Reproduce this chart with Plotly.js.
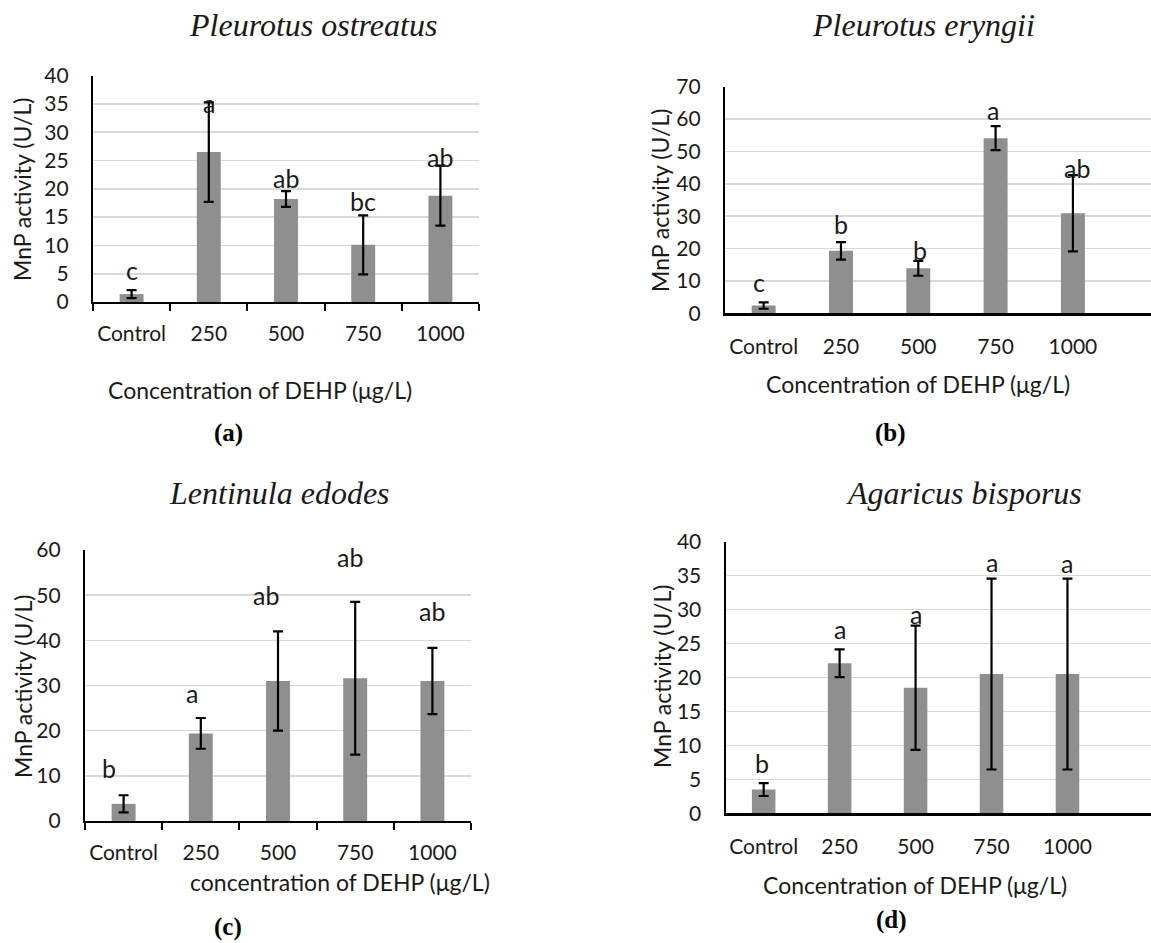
<!DOCTYPE html>
<html>
<head>
<meta charset="utf-8">
<script src="https://cdn.plot.ly/plotly-3.0.1.min.js"></script>
<style>html,body{margin:0;padding:0;background:#fff}#chart{width:1151px;height:943px}</style>
</head>
<body>
<div id="chart"></div>
<script>
// ---- data ----
const categories = ['Control', '250', '500', '750', '1000'];

const titleA = 'Pleurotus ostreatus';
const valuesA = [1.4, 26.5, 18.2, 10.1, 18.8];
const errorsA = [0.7, 8.8, 1.4, 5.2, 5.3];
const lettersA = ['c', 'a', 'ab', 'bc', 'ab'];
const letterHeightA = [5.7, 35.1, 22.0, 17.8, 25.7];

const titleB = 'Pleurotus eryngii';
const valuesB = [2.4, 19.3, 13.9, 54.1, 30.9];
const errorsB = [1.0, 2.7, 2.3, 3.7, 11.8];
const lettersB = ['c', 'b', 'b', 'a', 'ab'];
const letterHeightB = [9.8, 27.5, 19.6, 62.8, 44.8];

const titleC = 'Lentinula edodes';
const valuesC = [3.8, 19.4, 31.0, 31.6, 31.0];
const errorsC = [1.9, 3.4, 11.0, 16.9, 7.35];
const lettersC = ['b', 'a', 'ab', 'ab', 'ab'];
const letterHeightC = [11.7, 28.3, 50.0, 58.4, 46.5];

const titleD = 'Agaricus bisporus';
const valuesD = [3.5, 22.1, 18.5, 20.5, 20.5];
const errorsD = [0.95, 2.05, 9.15, 14.05, 14.05];
const lettersD = ['b', 'a', 'a', 'a', 'a'];
const letterHeightD = [7.4, 27.2, 29.3, 37.05, 36.9];

const yTitle = 'MnP activity (U/L)';
const xTitleUpper = 'Concentration of DEHP (μg/L)';
const xTitleLower = 'concentration of DEHP (μg/L)';
const captions = ['(a)', '(b)', '(c)', '(d)'];

// ---- layout helpers ----
const W = 1151, H = 943;
const px = v => v / W;
const py = v => 1 - v / H;
const sans = 'Lato, "Open Sans", sans-serif';
const serif = '"Liberation Serif", "Times New Roman", serif';
const barColor = '#8f8f8f';
const gridColor = '#d9d9d9';

const panels = [
  {vals: valuesA, errs: errorsA, letters: lettersA, lh: letterHeightA, title: titleA, xt: xTitleUpper,
   x0: 93, x1: 479, yTop: 75.7, yBot: 302, ymax: 40, dtick: 5, xr: [-0.5, 4.5], xticks: true,
   titlePos: [313, 25], yTitlePos: [22, 190], xTitlePos: [260, 390], capPos: [228, 433], shifts: [0,0,0,0,0]},
  {vals: valuesB, errs: errorsB, letters: lettersB, lh: letterHeightB, title: titleB, xt: xTitleUpper,
   x0: 725, x1: 1151, yTop: 86.7, yBot: 313.3, ymax: 70, dtick: 10, xr: [-0.5, 5.01], xticks: false,
   titlePos: [924, 25], yTitlePos: [660, 200], xTitlePos: [918, 384], capPos: [890, 433], shifts: [-5,0,2,-3,4]},
  {vals: valuesC, errs: errorsC, letters: lettersC, lh: letterHeightC, title: titleC, xt: xTitleLower,
   x0: 85, x1: 471, yTop: 550, yBot: 821, ymax: 60, dtick: 10, xr: [-0.5, 4.5], xticks: true,
   titlePos: [279, 493], yTitlePos: [23, 687], xTitlePos: [340, 882], capPos: [228, 927], shifts: [-15,-9,-12,-5,0]},
  {vals: valuesD, errs: errorsD, letters: lettersD, lh: letterHeightD, title: titleD, xt: xTitleUpper,
   x0: 725.7, x1: 1151, yTop: 541.7, yBot: 813.3, ymax: 40, dtick: 5, xr: [-0.5, 5.1], xticks: false,
   titlePos: [964, 493], yTitlePos: [662, 677], xTitlePos: [915, 885], capPos: [891, 920], shifts: [-2,0,0,0,0]}
];

const data = [];
const annotations = [];
const layout = {
  width: W, height: H,
  margin: {l: 0, r: 0, t: 0, b: 0},
  paper_bgcolor: '#ffffff', plot_bgcolor: '#ffffff',
  showlegend: false,
  font: {family: sans, size: 21, color: '#1a1a1a'}
};

panels.forEach((p, i) => {
  const n = i + 1;
  const xa = 'x' + (n === 1 ? '' : n), ya = 'y' + (n === 1 ? '' : n);
  data.push({
    type: 'bar', x: categories, y: p.vals, xaxis: xa, yaxis: ya,
    width: 0.31, marker: {color: barColor, line: {width: 0}},
    error_y: {type: 'data', array: p.errs, visible: true, color: '#000000', thickness: 2.2, width: 5},
    hoverinfo: 'x+y'
  });
  layout['xaxis' + (n === 1 ? '' : n)] = {
    domain: [px(p.x0), px(p.x1)], anchor: ya, type: 'category', range: p.xr,
    showline: true, linecolor: '#000000', linewidth: 2.2, showgrid: false, zeroline: false,
    ticks: p.xticks ? 'outside' : '', tickson: 'boundaries', ticklen: 7, tickwidth: 2, tickcolor: '#000000',
    ticklabelstandoff: p.xticks ? 12 : 13, tickangle: 0,
    tickfont: {family: sans, size: 21, color: '#1a1a1a'}, fixedrange: true
  };
  layout['yaxis' + (n === 1 ? '' : n)] = {
    domain: [py(p.yBot), py(p.yTop)], anchor: xa, range: [0, p.ymax], dtick: p.dtick,
    showline: true, linecolor: '#000000', linewidth: 2.2,
    showgrid: true, gridcolor: gridColor, gridwidth: 1.6, zeroline: false,
    ticks: '', ticklabelstandoff: 18,
    tickfont: {family: sans, size: 21, color: '#1a1a1a'}, fixedrange: true
  };
  // significance letters (x given as category index)
  p.letters.forEach((t, k) => {
    annotations.push({
      xref: xa, yref: ya, x: k, y: p.lh[k], text: t, showarrow: false,
      xanchor: 'center', yanchor: 'middle', xshift: p.shifts[k],
      font: {family: sans, size: 25, color: '#1a1a1a'}
    });
  });
  // panel title
  annotations.push({xref: 'paper', yref: 'paper', x: px(p.titlePos[0]), y: py(p.titlePos[1]),
    text: '<i>' + p.title + '</i>', showarrow: false, xanchor: 'center', yanchor: 'middle',
    font: {family: serif, size: 32, color: '#1a1a1a'}});
  // y title
  annotations.push({xref: 'paper', yref: 'paper', x: px(p.yTitlePos[0]), y: py(p.yTitlePos[1]),
    text: yTitle, textangle: -90, showarrow: false, xanchor: 'center', yanchor: 'middle',
    font: {family: sans, size: 23, color: '#1a1a1a'}});
  // x title
  annotations.push({xref: 'paper', yref: 'paper', x: px(p.xTitlePos[0]), y: py(p.xTitlePos[1]),
    text: p.xt, showarrow: false, xanchor: 'center', yanchor: 'middle',
    font: {family: sans, size: 23, color: '#1a1a1a'}});
  // caption
  annotations.push({xref: 'paper', yref: 'paper', x: px(p.capPos[0]), y: py(p.capPos[1]),
    text: '<b>' + captions[i] + '</b>', showarrow: false, xanchor: 'center', yanchor: 'middle',
    font: {family: serif, size: 25, color: '#000000'}});
});

layout.annotations = annotations;
Plotly.newPlot('chart', data, layout, {displayModeBar: false, staticPlot: true});
</script>
</body>
</html>
